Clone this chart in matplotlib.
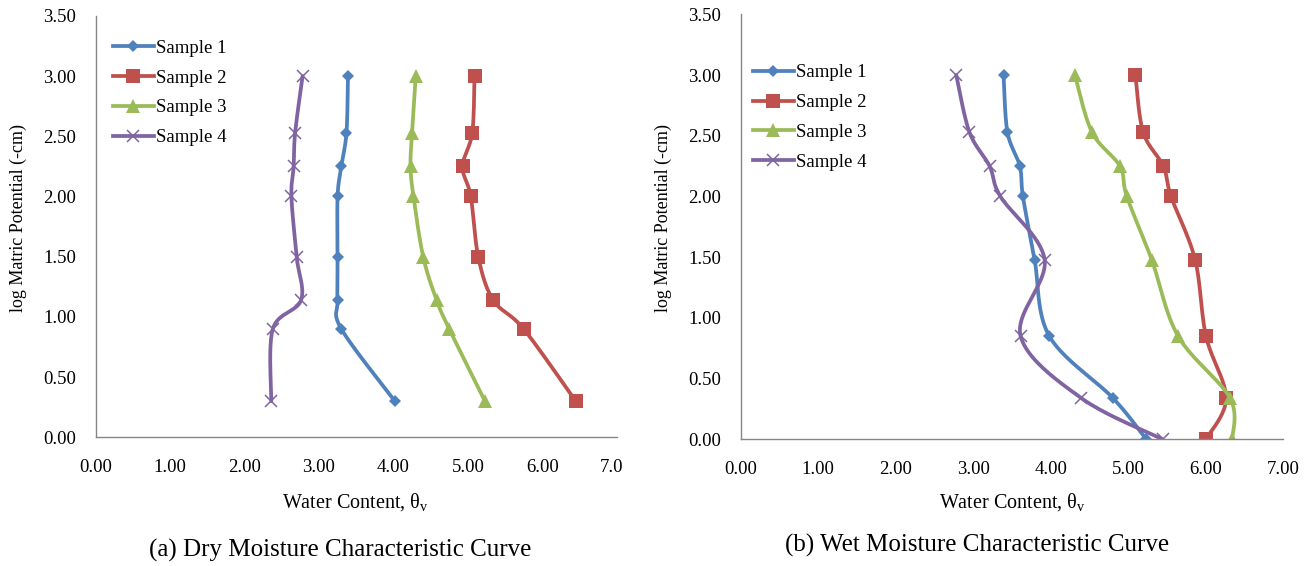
import numpy as np
import matplotlib
matplotlib.use("Agg")
import matplotlib.pyplot as plt
from matplotlib.lines import Line2D
from matplotlib.transforms import Bbox, TransformedBbox

plt.rcParams["font.family"] = ["Liberation Serif", "DejaVu Serif"]
plt.rcParams["mathtext.fontset"] = "custom"
plt.rcParams["mathtext.rm"] = "Liberation Serif"

samples = ["Sample 1", "Sample 2", "Sample 3", "Sample 4"]

# (a) dry curve: log matric potential and water content per sample
dry_potential = [3.00, 2.53, 2.25, 2.00, 1.50, 1.14, 0.90, 0.30]
dry_s1 = [3.39, 3.37, 3.30, 3.25, 3.25, 3.25, 3.30, 4.02]
dry_s2 = [5.09, 5.06, 4.93, 5.04, 5.14, 5.34, 5.75, 6.45]
dry_s3 = [4.30, 4.25, 4.23, 4.27, 4.40, 4.58, 4.75, 5.23]
dry_s4 = [2.78, 2.68, 2.66, 2.63, 2.70, 2.76, 2.38, 2.36]

# (b) wet curve
wet_potential = [3.00, 2.53, 2.25, 2.00, 1.48, 0.85, 0.34, 0.00]
wet_s1 = [3.39, 3.44, 3.60, 3.64, 3.79, 3.98, 4.80, 5.23]
wet_s2 = [5.09, 5.19, 5.45, 5.55, 5.86, 6.00, 6.26, 6.00]
wet_s3 = [4.31, 4.53, 4.89, 4.98, 5.30, 5.64, 6.31, 6.34]
wet_s4 = [2.78, 2.95, 3.21, 3.35, 3.92, 3.61, 4.39, 5.44]

ticks_x = [0, 1, 2, 3, 4, 5, 6, 7]
ticks_y = [0, 0.5, 1.0, 1.5, 2.0, 2.5, 3.0, 3.5]

colors = ["#4F81BD", "#C0504D", "#9BBB59", "#8064A2"]
markers = [("D", 6.5), ("s", 10), ("^", 9.5), ("x", 9)]


def smooth(ax, x, y, n=24):
    # Excel-like smoothed line: Catmull-Rom bezier in screen space
    pts = ax.transData.transform(np.column_stack([x, y]))
    p = np.vstack([pts[0], pts, pts[-1]])
    t = np.linspace(0, 1, n)[1:, None]
    out = [pts[:1]]
    for i in range(1, len(p) - 2):
        p0, p1, p2, p3 = p[i - 1], p[i], p[i + 1], p[i + 2]
        c1 = p1 + (p2 - p0) / 6
        c2 = p2 - (p3 - p1) / 6
        out.append((1 - t) ** 3 * p1 + 3 * (1 - t) ** 2 * t * c1
                   + 3 * (1 - t) * t ** 2 * c2 + t ** 3 * p2)
    return ax.transData.inverted().transform(np.vstack(out))


def panel(ax, pot, series, caption_xy, caption, leg_xy):
    ax.set_xlim(0, 7)
    ax.set_ylim(0, 3.5)
    ax.set_xticks(ticks_x)
    ax.set_yticks(ticks_y)
    ax.set_xticklabels(["%.2f" % v for v in ticks_x])
    ax.set_yticklabels(["%.2f" % v for v in ticks_y])
    for s in ["top", "right"]:
        ax.spines[s].set_visible(False)
    for s in ["left", "bottom"]:
        ax.spines[s].set_color("#868686")
        ax.spines[s].set_linewidth(1.0)
    ax.tick_params(length=0, labelsize=13.5, pad=14)
    ax.tick_params(axis="x", pad=15.5)

    handles = []
    for vals, c, (m, ms), lab in zip(series, colors, markers, samples):
        cur = smooth(ax, vals, pot)
        ax.plot(cur[:, 0], cur[:, 1], color=c, lw=2.7, solid_capstyle="round")
        mew = 1.1 if m == "x" else 0
        ax.plot(vals, pot, ls="none", marker=m, ms=ms, color=c, mec=c, mew=mew)
        handles.append(Line2D([], [], color=c, lw=2.7, marker=m, ms=ms, mec=c, mew=mew))

    ax.legend(handles, samples, loc="upper left", bbox_to_anchor=leg_xy,
              frameon=False, fontsize=13.5, handlelength=2.2, handletextpad=0.1,
              labelspacing=0.68, borderpad=0, borderaxespad=0)

    ax.set_xlabel(r"Water Content, θ$_\mathrm{v}$", fontsize=14.5)
    ax.set_ylabel("log Matric Potential (-cm)", fontsize=13)
    ax.figure.text(caption_xy[0], caption_xy[1], caption, ha="center", va="center", fontsize=18)


fig = plt.figure(figsize=(13.16, 5.66), dpi=100)
ax1 = fig.add_axes([0.0727, 0.2274, 0.3959, 0.7445])
ax2 = fig.add_axes([0.5628, 0.2239, 0.4125, 0.7507])

panel(ax1, dry_potential, [dry_s1, dry_s2, dry_s3, dry_s4],
      (340 / 1316, 1 - 550 / 566), "(a) Dry Moisture Characteristic Curve", (0.0326, 0.944))
panel(ax2, wet_potential, [wet_s1, wet_s2, wet_s3, wet_s4],
      (977 / 1316, 1 - 545 / 566), "(b) Wet Moisture Characteristic Curve", (0.022, 0.883))

ax1.xaxis.set_label_coords(0.499, -0.128)
ax1.yaxis.set_label_coords(-0.132, 0.52)
ax2.xaxis.set_label_coords(0.5, -0.122)
ax2.yaxis.set_label_coords(-0.127, 0.52)

# the left panel's last x label is cut off in the original
clip = TransformedBbox(Bbox.from_extents(0, 0, 622 / 1316, 1), fig.transFigure)
for lbl in ax1.get_xticklabels():
    lbl.set_clip_box(clip)
    lbl.set_clip_on(True)

fig.savefig("out.png", dpi=100)
